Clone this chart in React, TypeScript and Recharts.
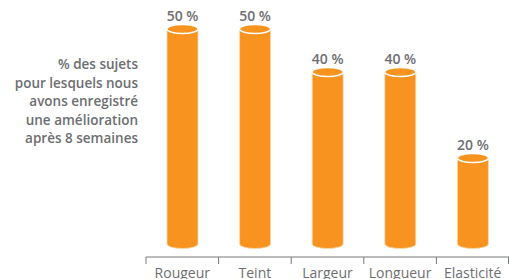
import { BarChart, Bar, XAxis, YAxis, LabelList } from 'recharts';

const categories = ['Rougeur', 'Teint', 'Largeur', 'Longueur', 'Elasticité'];
const improvement = [50, 50, 40, 40, 20];
const noteLines = [
  '% des sujets',
  'pour lesquels nous',
  'avons enregistré',
  'une amélioration',
  'après 8 semaines',
];

const ORANGE = '#f7931e';
const GREY = '#6d6e71';
const FONT = '"Open Sans", "Noto Sans", sans-serif';

const data = categories.map((name, i) => ({ name, value: improvement[i] }));

function Cylinder(props: any) {
  const { x, y, width, height } = props;
  if (!width || height == null) return null;
  const rx = width / 2;
  const ry = 4.5;
  const cx = x + rx;
  const bottom = y + height;
  const body = `M${x},${y} L${x},${bottom} A${rx},${ry} 0 0 0 ${x + width},${bottom} L${x + width},${y} Z`;
  return (
    <g>
      <path d={body} fill={ORANGE} stroke="#fbd9ae" strokeWidth={0.8} />
      <ellipse cx={cx} cy={y} rx={rx} ry={ry} fill={ORANGE} stroke="#ffffff" strokeWidth={1.5} />
    </g>
  );
}

function ValueLabel(props: any) {
  const { x, y, width, value } = props;
  return (
    <text x={x + width / 2} y={y - 14} textAnchor="middle" dominantBaseline="central"
      fontSize={14} fontWeight={600} fill={GREY} fontFamily={FONT}>
      {`${value} %`}
    </text>
  );
}

function CategoryTick(props: any) {
  const { x, y, payload, index, visibleTicksCount } = props;
  const half = 363 / categories.length / 2;
  const last = index === (visibleTicksCount ?? categories.length) - 1;
  return (
    <g>
      <line x1={x - half} x2={x - half} y1={y - 8} y2={y - 1} stroke="#77787b" strokeWidth={1} />
      {last && <line x1={x + half - 0.5} x2={x + half - 0.5} y1={y - 8} y2={y - 1} stroke="#77787b" strokeWidth={1} />}
      <text x={x} y={y + 7} textAnchor="middle" dominantBaseline="central"
        fontSize={14} fill={GREY} fontFamily={FONT}>
        {payload.value}
      </text>
    </g>
  );
}

export default function App() {
  return (
    <div style={{ position: 'absolute', left: 0, top: 0, width: 509, height: 279, background: '#fff' }}>
      <div style={{
        position: 'absolute', right: 509 - 138, top: 55, textAlign: 'right',
        fontFamily: FONT, fontSize: 13.5, fontWeight: 600, color: GREY, lineHeight: '18.5px',
        whiteSpace: 'nowrap',
      }}>
        {noteLines.map((l) => <div key={l}>{l}</div>)}
      </div>
      <BarChart width={509} height={279} data={data}
        margin={{ top: 29, right: 0, left: 146, bottom: 0 }} barCategoryGap={0}>
        <YAxis hide domain={[0, 50]} padding={{ top: 0, bottom: 13 }} />
        <XAxis dataKey="name" height={22} stroke="#77787b" tickLine={false}
          tick={<CategoryTick />} interval={0} />
        <Bar dataKey="value" barSize={31} shape={<Cylinder />} isAnimationActive={false}>
          <LabelList dataKey="value" content={<ValueLabel />} />
        </Bar>
      </BarChart>
    </div>
  );
}
